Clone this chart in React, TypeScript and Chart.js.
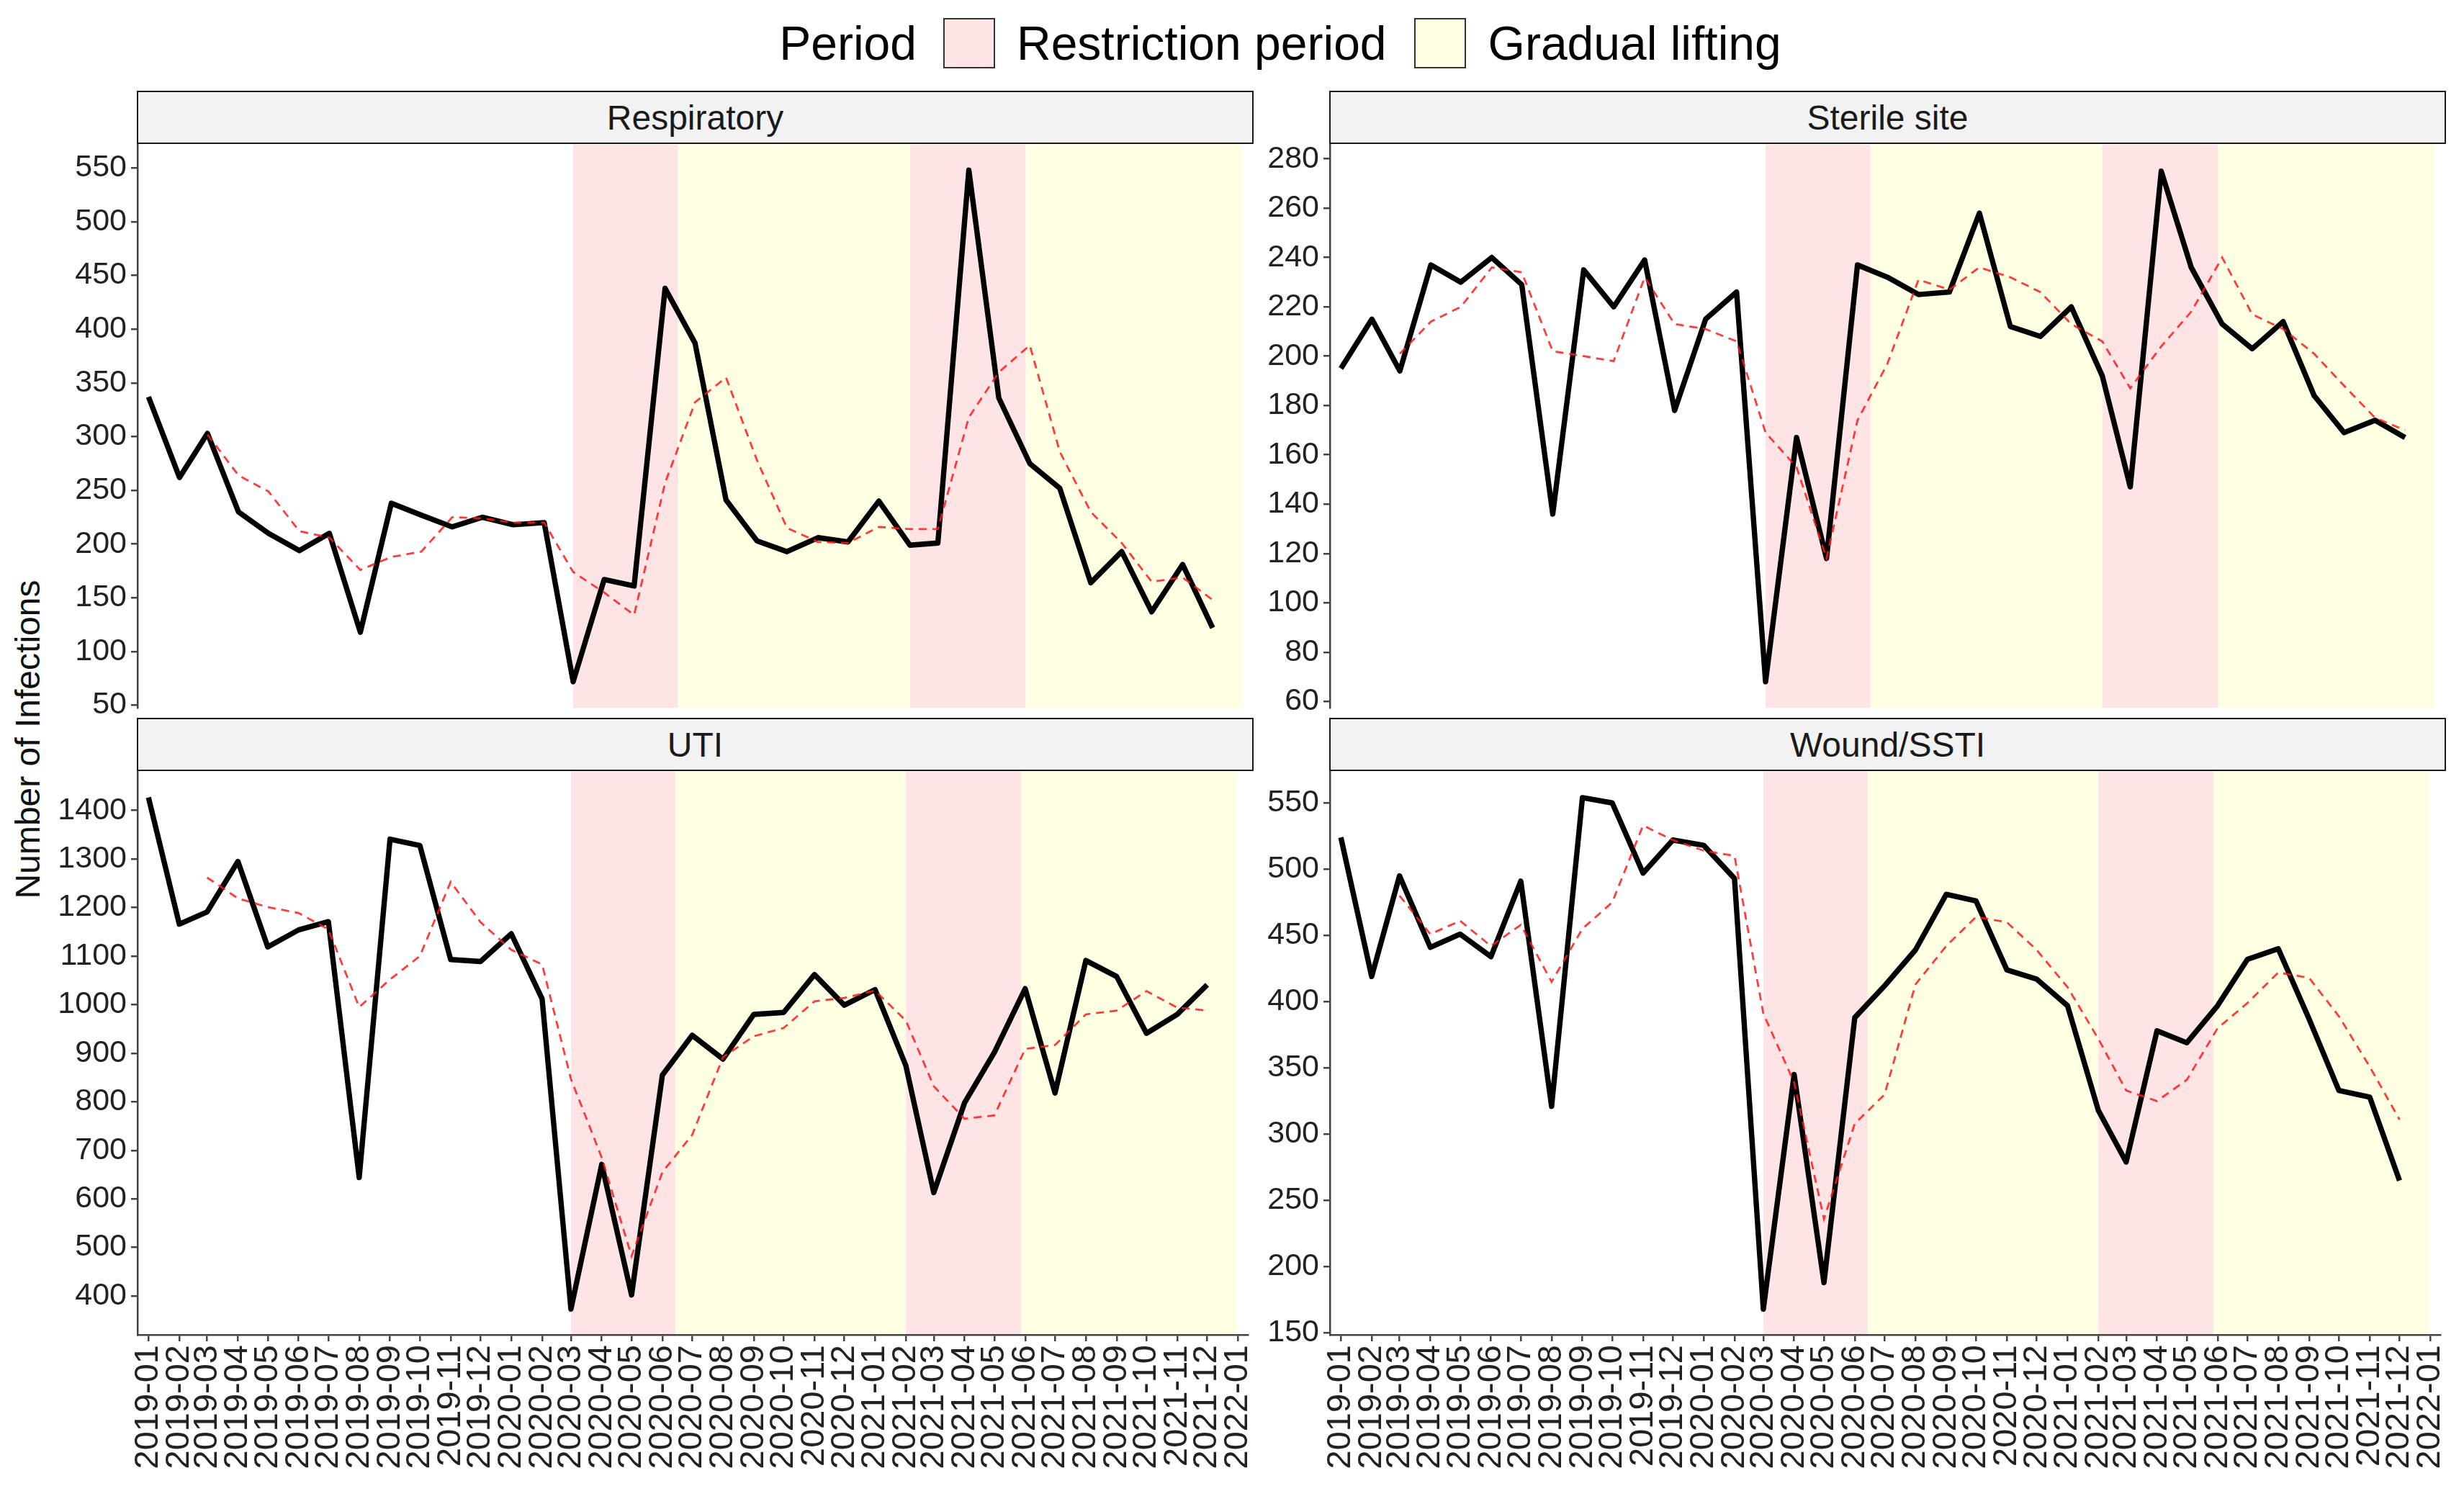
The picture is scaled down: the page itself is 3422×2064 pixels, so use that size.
import React, { useEffect, useRef } from "react";
import { Chart, registerables } from "chart.js";

Chart.register(...registerables);

// ---------------- DATA ----------------
const monthLabels = [
  "2019-01", "2019-02", "2019-03", "2019-04", "2019-05", "2019-06", "2019-07", "2019-08", "2019-09", "2019-10", "2019-11", "2019-12",
  "2020-01", "2020-02", "2020-03", "2020-04", "2020-05", "2020-06", "2020-07", "2020-08", "2020-09", "2020-10", "2020-11", "2020-12",
  "2021-01", "2021-02", "2021-03", "2021-04", "2021-05", "2021-06", "2021-07", "2021-08", "2021-09", "2021-10", "2021-11", "2021-12",
  "2022-01",
];
const dataMonths = monthLabels.slice(0, 36);

const respiratory = [337, 262, 303, 230, 210, 194, 210, 118, 238, 227, 216, 225, 218, 220, 72, 167, 161, 438, 387, 241, 203, 193, 206, 202, 240, 199, 201, 548, 336, 275, 252, 164, 193, 137, 181, 122];
const respiratoryAvg = [null, null, 302, 264, 249, 212, 206, 176, 188, 193, 225, 224, 220, 220, 174, 155, 134, 257, 332, 355, 278, 215, 202, 201, 216, 214, 214, 318, 360, 385, 286, 230, 201, 165, 169, 148];

const sterile = [195, 215, 194, 237, 230, 240, 229, 136, 235, 220, 239, 178, 215, 226, 68, 167, 118, 237, 232, 225, 226, 258, 212, 208, 220, 192, 147, 275, 236, 213, 203, 214, 184, 169, 174, 167];
const sterileAvg = [null, null, 201, 214, 220, 236, 234, 202, 200, 198, 232, 213, 211, 206, 169, 155, 118, 174, 197, 231, 227, 236, 232, 226, 213, 206, 187, 204, 218, 240, 217, 211, 201, 188, 175, 170];

const uti = [1427, 1166, 1191, 1295, 1119, 1154, 1171, 644, 1341, 1328, 1093, 1089, 1146, 1012, 373, 671, 402, 855, 937, 888, 980, 984, 1062, 999, 1031, 874, 613, 798, 902, 1033, 818, 1091, 1058, 941, 980, 1041];
const utiAvg = [null, null, 1262, 1219, 1201, 1189, 1155, 995, 1052, 1100, 1253, 1170, 1113, 1083, 847, 685, 482, 655, 732, 892, 935, 952, 1007, 1014, 1029, 967, 832, 765, 772, 909, 917, 980, 988, 1028, 994, 988];

const wound = [524, 419, 495, 441, 451, 434, 491, 321, 554, 550, 497, 522, 518, 493, 168, 345, 188, 388, 412, 439, 481, 476, 424, 417, 397, 318, 279, 378, 369, 397, 432, 440, 387, 333, 328, 265];
const woundAvg = [null, null, 480, 451, 461, 442, 458, 415, 455, 475, 533, 522, 514, 510, 391, 339, 236, 308, 330, 413, 442, 464, 460, 439, 411, 372, 333, 325, 341, 380, 399, 422, 418, 389, 351, 311];

const respiratoryTicks = [50, 100, 150, 200, 250, 300, 350, 400, 450, 500, 550];
const sterileTicks = [60, 80, 100, 120, 140, 160, 180, 200, 220, 240, 260, 280];
const utiTicks = [400, 500, 600, 700, 800, 900, 1000, 1100, 1200, 1300, 1400];
const woundTicks = [150, 200, 250, 300, 350, 400, 450, 500, 550];

const periodTypes = ["Restriction period", "Gradual lifting", "Restriction period", "Gradual lifting"];
const periodStarts = ["2020-03-01", "2020-06-14", "2021-02-01", "2021-05-28"];
const periodEnds = ["2020-06-14", "2021-02-01", "2021-05-28", "2021-12-31"];

const legendTitle = "Period";
const legendLabels = ["Restriction period", "Gradual lifting"];
const yTitle = "Number of Infections";

// ---------------- STYLE ----------------
const FONT = "'Liberation Sans', Arial, Helvetica, sans-serif";
const PINK = "rgb(255,228,230)";
const YELLOW = "rgb(255,255,227)";
const AXIS = "#444444";

const W = 3422;
const H = 2064;
const Y_AXIS_W = 140;
const X_AXIS_H = 200;
const PAD_T = 30;
const PAD_R = 40;
const PAD_B = 30;

const COLS = [
  { plotLeft: 191, plotW: 1550 },
  { plotLeft: 1847, plotW: 1550 },
];
const ROWS = [
  { stripTop: 126, plotTop: 199, plotBottom: 985 },
  { stripTop: 997, plotTop: 1070, plotBottom: 1854 },
];

const DAY = 86400000;
const ORIGIN = Date.UTC(2019, 0, 1);
function dayOf(s: string): number {
  const p = s.split("-").map(Number);
  return (Date.UTC(p[0], p[1] - 1, p[2] || 1) - ORIGIN) / DAY;
}
const monthDays = monthLabels.map((m) => dayOf(m));

type PanelDef = {
  title: string;
  values: number[];
  avg: (number | null)[];
  ticks: number[];
  yMin: number;
  yMax: number;
  col: number;
  row: number;
};

const panels: PanelDef[] = [
  { title: "Respiratory", values: respiratory, avg: respiratoryAvg, ticks: respiratoryTicks, yMin: 47.6, yMax: 571.8, col: 0, row: 0 },
  { title: "Sterile site", values: sterile, avg: sterileAvg, ticks: sterileTicks, yMin: 57.4, yMax: 285.8, col: 1, row: 0 },
  { title: "UTI", values: uti, avg: utiAvg, ticks: utiTicks, yMin: 320, yMax: 1480, col: 0, row: 1 },
  { title: "Wound/SSTI", values: wound, avg: woundAvg, ticks: woundTicks, yMin: 148.6, yMax: 573.6, col: 1, row: 1 },
];

function Panel({ def }: { def: PanelDef }) {
  const ref = useRef<HTMLCanvasElement | null>(null);
  const col = COLS[def.col];
  const row = ROWS[def.row];
  const bottom = def.row === 1;
  const plotH = row.plotBottom - row.plotTop;
  const cLeft = col.plotLeft - Y_AXIS_W;
  const cTop = row.plotTop - PAD_T;
  const cW = Y_AXIS_W + col.plotW + PAD_R;
  const cH = PAD_T + plotH + (bottom ? X_AXIS_H : PAD_B);

  useEffect(() => {
    if (!ref.current) return;
    const periodsPlugin = {
      id: "periods",
      beforeDraw(chart: any) {
        const { ctx, chartArea, scales } = chart;
        const x = scales.x;
        ctx.save();
        periodStarts.forEach((s, i) => {
          const x0 = x.getPixelForValue(dayOf(s));
          const x1 = x.getPixelForValue(dayOf(periodEnds[i]));
          ctx.fillStyle = periodTypes[i] === "Restriction period" ? PINK : YELLOW;
          ctx.fillRect(x0, chartArea.top, x1 - x0, chartArea.bottom - chartArea.top);
        });
        ctx.restore();
      },
    };

    const chart = new Chart(ref.current, {
      type: "line",
      data: {
        datasets: [
          {
            label: "count",
            data: def.values.map((v, i) => ({ x: dayOf(dataMonths[i]), y: v })),
            borderColor: "#000000",
            borderWidth: 7.4,
            pointRadius: 0,
            tension: 0,
            fill: false,
            borderJoinStyle: "round",
            borderCapStyle: "butt",
            order: 1,
          },
          {
            label: "avg",
            data: def.avg.map((v, i) => ({ x: dayOf(dataMonths[i]), y: v })),
            borderColor: "rgba(255,25,25,0.85)",
            borderWidth: 2.8,
            borderDash: [11, 8],
            pointRadius: 0,
            tension: 0,
            fill: false,
            order: 0,
          },
        ],
      } as any,
      options: {
        animation: false,
        responsive: false,
        devicePixelRatio: 1,
        layout: { padding: { top: PAD_T, right: PAD_R, bottom: bottom ? 0 : PAD_B, left: 0 } },
        plugins: { legend: { display: false }, tooltip: { enabled: false } },
        events: [],
        scales: {
          x: {
            type: "linear",
            display: bottom,
            min: -11,
            max: 1106,
            afterBuildTicks: (scale: any) => {
              scale.ticks = monthDays.map((v) => ({ value: v }));
            },
            afterFit: (scale: any) => {
              if (bottom) scale.height = X_AXIS_H;
            },
            ticks: {
              autoSkip: false,
              minRotation: 90,
              maxRotation: 90,
              padding: 5,
              color: "#222222",
              font: { family: FONT, size: 47 },
              callback: (_v: any, i: number) => monthLabels[i],
            },
            grid: { display: true, drawOnChartArea: false, drawTicks: true, tickLength: 9, color: AXIS, lineWidth: 2.5 },
            border: { display: true, color: AXIS, width: 2.5 },
          },
          y: {
            type: "linear",
            min: def.yMin,
            max: def.yMax,
            afterBuildTicks: (scale: any) => {
              scale.ticks = def.ticks.map((v) => ({ value: v }));
            },
            afterFit: (scale: any) => {
              scale.width = Y_AXIS_W;
            },
            ticks: {
              padding: 6,
              color: "#222222",
              font: { family: FONT, size: 43 },
              callback: (v: any) => String(v),
            },
            grid: { display: true, drawOnChartArea: false, drawTicks: true, tickLength: 9, color: AXIS, lineWidth: 2.5 },
            border: { display: true, color: AXIS, width: 2.5 },
          },
        },
      } as any,
      plugins: [periodsPlugin],
    });
    return () => chart.destroy();
  }, []);

  return (
    <>
      <div
        style={{
          position: "absolute",
          left: col.plotLeft - 1,
          top: row.stripTop,
          width: col.plotW + 1,
          height: row.plotTop - row.stripTop + 1,
          boxSizing: "border-box",
          background: "#F2F2F2",
          border: "2.6px solid #1a1a1a",
          display: "flex",
          alignItems: "center",
          justifyContent: "center",
          fontFamily: FONT,
          fontSize: 48,
          color: "#1a1a1a",
        }}
      >
        {def.title}
      </div>
      <canvas
        ref={ref}
        width={cW}
        height={cH}
        style={{ position: "absolute", left: cLeft, top: cTop, width: cW, height: cH }}
      />
    </>
  );
}

export default function App() {
  const boxStyle = (bg: string, ml: number, mr: number): React.CSSProperties => ({
    display: "inline-block",
    width: 72,
    height: 70,
    boxSizing: "border-box",
    background: bg,
    border: "2.6px solid #333333",
    marginLeft: ml,
    marginRight: mr,
  });
  return (
    <div style={{ position: "absolute", left: 0, top: 0, width: W, height: H, background: "#ffffff", overflow: "hidden" }}>
      <div
        style={{
          position: "absolute",
          left: 175,
          width: 3206,
          top: 24,
          height: 72,
          display: "flex",
          alignItems: "center",
          justifyContent: "center",
          fontFamily: FONT,
          fontSize: 66,
          color: "#000000",
          whiteSpace: "nowrap",
        }}
      >
        <span>{legendTitle}</span>
        <span style={boxStyle(PINK, 37, 30)} />
        <span>{legendLabels[0]}</span>
        <span style={boxStyle(YELLOW, 38, 31)} />
        <span>{legendLabels[1]}</span>
      </div>
      <div
        style={{
          position: "absolute",
          left: 39 - 500,
          top: 1027 - 35,
          width: 1000,
          height: 70,
          lineHeight: "70px",
          textAlign: "center",
          transform: "rotate(-90deg)",
          fontFamily: FONT,
          fontSize: 48,
          color: "#111111",
        }}
      >
        {yTitle}
      </div>
      {panels.map((p) => (
        <Panel key={p.title} def={p} />
      ))}
    </div>
  );
}
